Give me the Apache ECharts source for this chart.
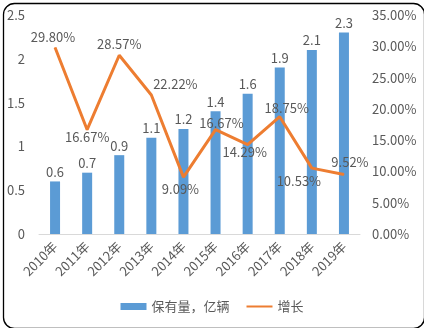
<!DOCTYPE html>
<html><head><meta charset="utf-8">
<script src="https://cdn.jsdelivr.net/npm/echarts@6/dist/echarts.min.js"></script>
<style>html,body{margin:0;padding:0;background:#fff}#c{width:424px;height:328px}</style>
</head><body><div id="c"></div>
<script>
const categories = ['2010年','2011年','2012年','2013年','2014年','2015年','2016年','2017年','2018年','2019年'];
const stock = [0.6,0.7,0.9,1.1,1.2,1.4,1.6,1.9,2.1,2.3];
const growth = [29.80,16.67,28.57,22.22,9.09,16.67,14.29,18.75,10.53,9.52];
const leftTicks = [0,0.5,1,1.5,2,2.5];
const rightTicks = [0,5,10,15,20,25,30,35];

// label placement (style only)
const lblPos = ['top','bottom','top','top','bottom','top','bottom','top','bottom','top'];
const lblDist = [3,0,4,4,5,0,0,2,6,5];
const lblDx = [-2,0,0,24,-3,6,-3,7,-13,6];

const font = '"Noto Sans CJK SC", "Noto Sans", sans-serif';
const txt = '#595959';
const chart = echarts.init(document.getElementById('c'));
chart.setOption({
  animation:false,
  textStyle:{fontFamily:font},
  graphic:[{type:'rect',left:1,top:1,shape:{width:421,height:325,r:11},style:{fill:'none',stroke:'#000',lineWidth:1.3},z:-1}],
  grid:{left:39,right:64,top:15,bottom:94},
  legend:{bottom:10,left:'center',itemWidth:26,itemHeight:7,itemGap:16,
    textStyle:{color:txt,fontSize:13,fontFamily:font},
    data:[{name:'保有量，亿辆',icon:'rect'},{name:'增长',itemStyle:{opacity:0}}]},
  xAxis:{type:'category',data:categories,
    axisLine:{lineStyle:{color:'#D9D9D9'}},axisTick:{show:false},
    axisLabel:{rotate:45,color:txt,fontSize:13,fontFamily:font,margin:10,interval:0}},
  yAxis:[
    {type:'value',min:leftTicks[0],max:leftTicks[leftTicks.length-1],interval:0.5,
     splitLine:{show:false},axisLine:{show:false},axisTick:{show:false},
     axisLabel:{color:txt,fontSize:13,fontFamily:font,margin:14}},
    {type:'value',min:rightTicks[0],max:rightTicks[rightTicks.length-1],interval:5,
     splitLine:{show:false},axisLine:{show:false},axisTick:{show:false},
     axisLabel:{color:txt,fontSize:13,fontFamily:font,margin:12,formatter:v=>v.toFixed(2)+'%'}}
  ],
  series:[
    {name:'保有量，亿辆',type:'bar',data:stock,barWidth:10,itemStyle:{color:'#5B9BD5'},
     label:{show:true,position:'top',color:txt,fontSize:13,distance:3}},
    {name:'增长',type:'line',yAxisIndex:1,symbol:'circle',symbolSize:1,showSymbol:true,
     data:growth.map((v,i)=>({value:v,label:{position:lblPos[i],distance:lblDist[i],offset:[lblDx[i],0]}})),
     lineStyle:{color:'#ED7D31',width:3},itemStyle:{color:'#ED7D31'},
     label:{show:true,color:txt,fontSize:13,formatter:p=>p.value.toFixed(2)+'%'}}
  ]
});
</script></body></html>
